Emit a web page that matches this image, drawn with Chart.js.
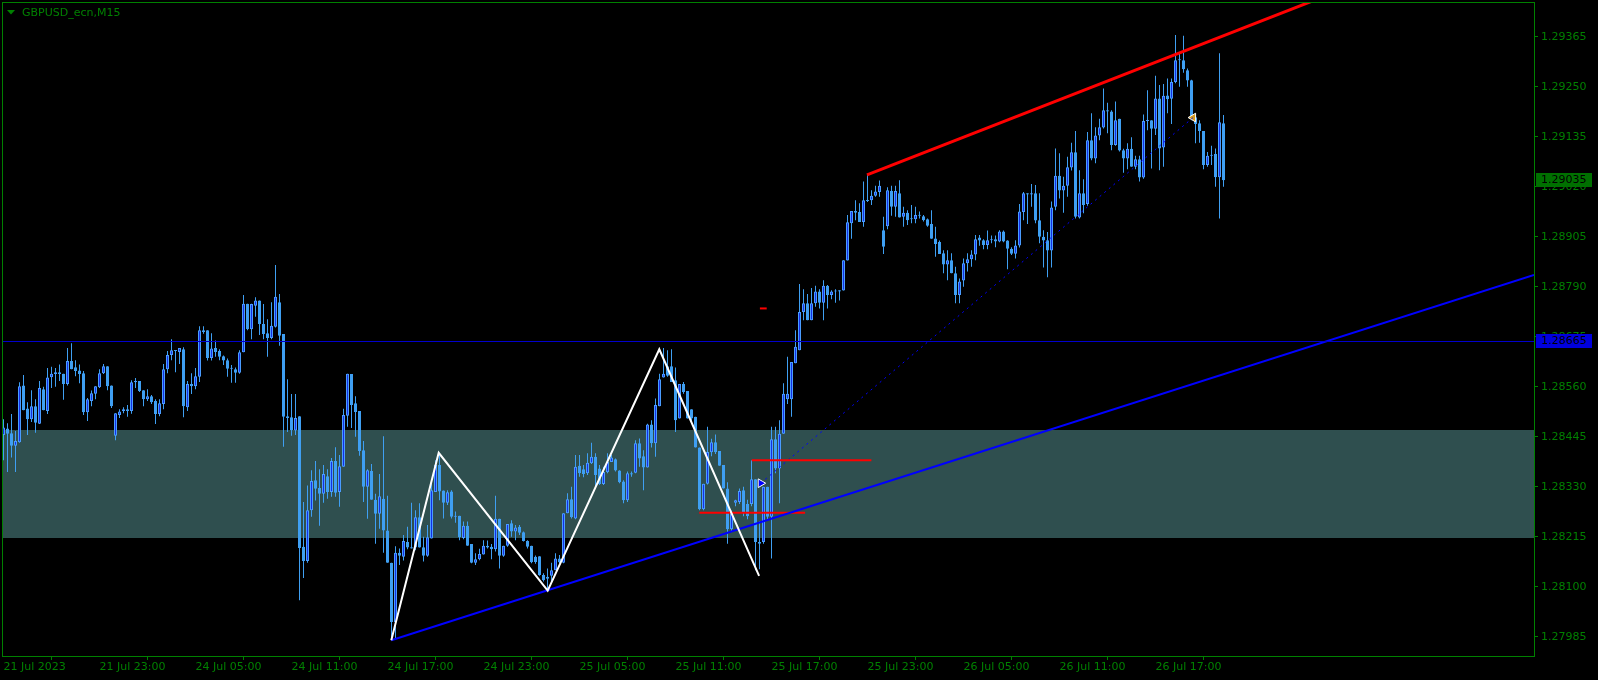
<!DOCTYPE html>
<html>
<head>
<meta charset="utf-8">
<title>GBPUSD_ecn,M15</title>
<script src="https://cdn.jsdelivr.net/npm/chart.js@4.4.0/dist/chart.umd.min.js"></script>
<style>
  html, body { margin: 0; padding: 0; background: #000; overflow: hidden; }
  canvas { display: block; }
</style>
</head>
<body>
<canvas id="chart" width="1598" height="680"></canvas>
<script>
// chart title / symbol
const symbolTitle = 'GBPUSD_ecn,M15';

// time axis: bar index -> label
const timeTickBars = [0, 24, 48, 72, 96, 120, 144, 168, 192, 216, 240, 264, 288];
const timeLabels = ['21 Jul 2023', '21 Jul 23:00', '24 Jul 05:00', '24 Jul 11:00', '24 Jul 17:00',
    '24 Jul 23:00', '25 Jul 05:00', '25 Jul 11:00', '25 Jul 17:00', '25 Jul 23:00',
    '26 Jul 05:00', '26 Jul 11:00', '26 Jul 17:00'];

// price axis ticks
const priceTicks = [1.27985, 1.28100, 1.28215, 1.28330, 1.28445, 1.28560, 1.28675,
    1.28790, 1.28905, 1.29020, 1.29135, 1.29250, 1.29365];

// M15 candles, one entry per bar
const opens = [
    1.28449,1.28464,1.28453,1.28424,1.28432,1.28563,1.28510,1.28485,1.28515,1.28475,
    1.28554,1.28504,1.28582,1.28589,1.28593,1.28590,1.28566,1.28619,1.28605,1.28597,
    1.28591,1.28501,1.28527,1.28544,1.28559,1.28591,1.28607,1.28563,1.28447,1.28495,
    1.28504,1.28508,1.28504,1.28570,1.28573,1.28552,1.28531,1.28538,1.28527,1.28497,
    1.28520,1.28600,1.28633,1.28644,1.28640,1.28646,1.28513,1.28566,1.28561,1.28583,
    1.28690,1.28690,1.28626,1.28649,1.28642,1.28630,1.28621,1.28601,1.28600,1.28592,
    1.28639,1.28751,1.28692,1.28746,1.28758,1.28704,1.28683,1.28672,1.28698,1.28754,
    1.28681,1.28492,1.28490,1.28459,1.28492,1.28192,1.28159,1.28276,1.28345,1.28327,
    1.28314,1.28354,1.28318,1.28389,1.28318,1.28376,1.28493,1.28589,1.28522,1.28504,
    1.28414,1.28330,1.28366,1.28300,1.28268,1.28302,1.28229,1.28155,1.28019,1.28178,
    1.28169,1.28203,1.28191,1.28190,1.28260,1.28191,1.28171,1.28211,1.28318,1.28380,
    1.28321,1.28293,1.28319,1.28261,1.28263,1.28212,1.28240,1.28198,1.28155,1.28163,
    1.28174,1.28194,1.28192,1.28186,1.28256,1.28171,1.28194,1.28246,1.28227,1.28238,
    1.28225,1.28205,1.28194,1.28169,1.28170,1.28127,1.28123,1.28125,1.28138,1.28165,
    1.28155,1.28269,1.28301,1.28257,1.28378,1.28370,1.28361,1.28384,1.28399,1.28372,
    1.28336,1.28363,1.28387,1.28393,1.28367,1.28342,1.28299,1.28361,1.28362,1.28430,
    1.28400,1.28374,1.28473,1.28430,1.28515,1.28581,1.28607,1.28607,1.28575,1.28487,
    1.28566,1.28550,1.28508,1.28491,1.28420,1.28278,1.28337,1.28409,1.28432,1.28412,
    1.28380,1.28326,1.28232,1.28293,1.28295,1.28322,1.28290,1.28290,1.28347,1.28203,
    1.28203,1.28330,1.28261,1.28439,1.28372,1.28452,1.28531,1.28531,1.28614,1.28644,
    1.28732,1.28752,1.28713,1.28752,1.28779,1.28753,1.28792,1.28771,1.28779,1.28782,
    1.28781,1.28850,1.28936,1.28964,1.28962,1.28939,1.28989,1.28989,1.28999,1.29008,
    1.28920,1.28929,1.29010,1.28974,1.29005,1.28951,1.28960,1.28947,1.28945,1.28955,
    1.28952,1.28945,1.28934,1.28901,1.28893,1.28867,1.28841,1.28851,1.28821,1.28771,
    1.28804,1.28844,1.28853,1.28864,1.28903,1.28897,1.28886,1.28897,1.28899,1.28894,
    1.28917,1.28896,1.28877,1.28866,1.28885,1.28962,1.29005,1.29002,1.29005,1.28943,
    1.28905,1.28897,1.28873,1.28974,1.29045,1.29011,1.29022,1.29064,1.29099,1.28949,
    1.29005,1.28980,1.29127,1.29085,1.29138,1.29156,1.29196,1.29193,1.29116,1.29176,
    1.29104,1.29085,1.29107,1.29066,1.29083,1.29041,1.29171,1.29173,1.29153,1.29223,
    1.29110,1.29230,1.29222,1.29261,1.29311,1.29311,1.29288,1.29265,1.29180,1.29166,
    1.29148,1.29070,1.29091,1.29095,1.29042,1.29166
];
const highs = [
    1.28485,1.28476,1.28497,1.28458,1.28570,1.28587,1.28524,1.28552,1.28531,1.28573,
    1.28560,1.28603,1.28606,1.28603,1.28611,1.28590,1.28649,1.28660,1.28621,1.28611,
    1.28596,1.28534,1.28551,1.28561,1.28600,1.28612,1.28607,1.28563,1.28499,1.28508,
    1.28513,1.28518,1.28575,1.28580,1.28573,1.28552,1.28554,1.28541,1.28531,1.28531,
    1.28612,1.28642,1.28669,1.28644,1.28649,1.28651,1.28573,1.28591,1.28603,1.28699,
    1.28699,1.28690,1.28683,1.28666,1.28646,1.28632,1.28625,1.28610,1.28604,1.28644,
    1.28771,1.28751,1.28751,1.28766,1.28758,1.28750,1.28715,1.28754,1.28840,1.28773,
    1.28681,1.28577,1.28543,1.28543,1.28492,1.28295,1.28333,1.28368,1.28389,1.28370,
    1.28380,1.28370,1.28396,1.28421,1.28403,1.28509,1.28590,1.28589,1.28538,1.28504,
    1.28435,1.28370,1.28382,1.28314,1.28359,1.28446,1.28309,1.28155,1.28193,1.28188,
    1.28219,1.28238,1.28293,1.28276,1.28292,1.28215,1.28242,1.28345,1.28391,1.28407,
    1.28321,1.28322,1.28322,1.28273,1.28263,1.28250,1.28250,1.28198,1.28177,1.28187,
    1.28207,1.28206,1.28198,1.28309,1.28256,1.28194,1.28244,1.28253,1.28242,1.28242,
    1.28227,1.28207,1.28194,1.28172,1.28170,1.28131,1.28142,1.28155,1.28177,1.28173,
    1.28269,1.28315,1.28330,1.28403,1.28403,1.28380,1.28407,1.28431,1.28407,1.28380,
    1.28376,1.28407,1.28403,1.28395,1.28368,1.28345,1.28365,1.28365,1.28437,1.28441,
    1.28414,1.28475,1.28483,1.28533,1.28590,1.28649,1.28644,1.28646,1.28604,1.28566,
    1.28571,1.28550,1.28508,1.28491,1.28420,1.28337,1.28468,1.28440,1.28450,1.28412,
    1.28380,1.28340,1.28275,1.28300,1.28326,1.28330,1.28300,1.28391,1.28347,1.28250,
    1.28330,1.28330,1.28468,1.28468,1.28483,1.28568,1.28629,1.28617,1.28690,1.28796,
    1.28784,1.28773,1.28787,1.28792,1.28784,1.28805,1.28794,1.28782,1.28784,1.28782,
    1.28851,1.28955,1.28964,1.28989,1.28982,1.29032,1.29047,1.29012,1.29022,1.29034,
    1.28951,1.29019,1.29022,1.29022,1.29035,1.28974,1.28966,1.28978,1.28974,1.28963,
    1.28955,1.28947,1.28966,1.28928,1.28896,1.28874,1.28874,1.28867,1.28836,1.28809,
    1.28855,1.28867,1.28874,1.28909,1.28909,1.28899,1.28919,1.28908,1.28908,1.28920,
    1.28919,1.28897,1.28881,1.28897,1.28980,1.29008,1.29005,1.29026,1.29024,1.29005,
    1.28920,1.28916,1.28986,1.29108,1.29097,1.29043,1.29089,1.29121,1.29148,1.29058,
    1.29037,1.29146,1.29189,1.29157,1.29176,1.29246,1.29213,1.29196,1.29216,1.29176,
    1.29107,1.29120,1.29134,1.29091,1.29091,1.29186,1.29242,1.29173,1.29275,1.29254,
    1.29256,1.29269,1.29269,1.29369,1.29328,1.29367,1.29292,1.29266,1.29180,1.29173,
    1.29148,1.29100,1.29114,1.29108,1.29327,1.29185
];
const lows = [
    1.28391,1.28364,1.28397,1.28364,1.28431,1.28506,1.28449,1.28479,1.28454,1.28474,
    1.28506,1.28497,1.28557,1.28560,1.28573,1.28530,1.28563,1.28600,1.28584,1.28568,
    1.28495,1.28481,1.28515,1.28531,1.28557,1.28589,1.28552,1.28511,1.28437,1.28488,
    1.28499,1.28491,1.28498,1.28557,1.28548,1.28515,1.28527,1.28520,1.28474,1.28492,
    1.28508,1.28591,1.28621,1.28593,1.28612,1.28490,1.28504,1.28543,1.28554,1.28571,
    1.28682,1.28620,1.28620,1.28629,1.28621,1.28610,1.28583,1.28569,1.28569,1.28590,
    1.28639,1.28690,1.28669,1.28721,1.28679,1.28669,1.28629,1.28669,1.28696,1.28654,
    1.28422,1.28456,1.28447,1.28449,1.28069,1.28120,1.28155,1.28261,1.28298,1.28240,
    1.28293,1.28302,1.28307,1.28307,1.28284,1.28376,1.28468,1.28465,1.28445,1.28401,
    1.28295,1.28256,1.28300,1.28199,1.28233,1.28178,1.28155,1.27977,1.27981,1.28150,
    1.28160,1.28186,1.28188,1.28184,1.28190,1.28158,1.28169,1.28211,1.28318,1.28299,
    1.28257,1.28288,1.28257,1.28247,1.28207,1.28209,1.28194,1.28154,1.28150,1.28161,
    1.28174,1.28188,1.28163,1.28181,1.28142,1.28169,1.28192,1.28215,1.28207,1.28219,
    1.28204,1.28188,1.28154,1.28153,1.28125,1.28112,1.28091,1.28112,1.28138,1.28154,
    1.28154,1.28269,1.28257,1.28255,1.28353,1.28352,1.28357,1.28382,1.28330,1.28334,
    1.28334,1.28361,1.28387,1.28365,1.28338,1.28292,1.28295,1.28353,1.28361,1.28376,
    1.28322,1.28374,1.28420,1.28399,1.28515,1.28581,1.28583,1.28571,1.28456,1.28487,
    1.28544,1.28487,1.28475,1.28420,1.28276,1.28276,1.28335,1.28400,1.28405,1.28378,
    1.28326,1.28199,1.28228,1.28285,1.28290,1.28262,1.28255,1.28285,1.28138,1.28140,
    1.28199,1.28253,1.28165,1.28361,1.28292,1.28452,1.28520,1.28491,1.28614,1.28644,
    1.28713,1.28713,1.28713,1.28744,1.28740,1.28713,1.28740,1.28761,1.28753,1.28758,
    1.28781,1.28850,1.28900,1.28943,1.28939,1.28928,1.28985,1.28978,1.28997,1.28997,
    1.28865,1.28922,1.28953,1.28951,1.28949,1.28928,1.28932,1.28936,1.28936,1.28947,
    1.28940,1.28928,1.28900,1.28859,1.28865,1.28821,1.28805,1.28821,1.28752,1.28752,
    1.28790,1.28825,1.28836,1.28851,1.28884,1.28876,1.28876,1.28890,1.28881,1.28892,
    1.28892,1.28830,1.28863,1.28855,1.28880,1.28943,1.28934,1.28974,1.28936,1.28890,
    1.28834,1.28812,1.28834,1.28966,1.28993,1.28960,1.28997,1.29057,1.28947,1.28947,
    1.28959,1.28976,1.29081,1.29074,1.29127,1.29154,1.29143,1.29104,1.29114,1.29101,
    1.29052,1.29060,1.29066,1.29060,1.29032,1.29038,1.29150,1.29062,1.29139,1.29058,
    1.29066,1.29189,1.29164,1.29258,1.29250,1.29282,1.29250,1.29173,1.29120,1.29121,
    1.29060,1.29066,1.29070,1.29020,1.28947,1.29020
];
const closes = [
    1.28466,1.28452,1.28424,1.28435,1.28561,1.28506,1.28485,1.28515,1.28477,1.28557,
    1.28506,1.28581,1.28590,1.28593,1.28589,1.28566,1.28619,1.28600,1.28596,1.28589,
    1.28501,1.28531,1.28545,1.28561,1.28591,1.28607,1.28561,1.28515,1.28499,1.28503,
    1.28508,1.28504,1.28570,1.28573,1.28550,1.28531,1.28538,1.28524,1.28497,1.28522,
    1.28600,1.28633,1.28644,1.28642,1.28649,1.28515,1.28566,1.28561,1.28584,1.28690,
    1.28686,1.28626,1.28648,1.28640,1.28629,1.28620,1.28601,1.28603,1.28592,1.28639,
    1.28751,1.28692,1.28750,1.28758,1.28704,1.28681,1.28672,1.28700,1.28767,1.28677,
    1.28491,1.28488,1.28460,1.28488,1.28189,1.28159,1.28276,1.28343,1.28325,1.28314,
    1.28359,1.28318,1.28389,1.28316,1.28377,1.28495,1.28590,1.28518,1.28502,1.28412,
    1.28330,1.28368,1.28300,1.28268,1.28308,1.28229,1.28155,1.28019,1.28178,1.28171,
    1.28205,1.28190,1.28188,1.28260,1.28190,1.28171,1.28214,1.28322,1.28380,1.28319,
    1.28293,1.28317,1.28261,1.28263,1.28214,1.28240,1.28194,1.28155,1.28163,1.28175,
    1.28194,1.28190,1.28186,1.28256,1.28171,1.28194,1.28244,1.28227,1.28236,1.28224,
    1.28205,1.28192,1.28156,1.28157,1.28127,1.28115,1.28118,1.28138,1.28165,1.28156,
    1.28269,1.28301,1.28260,1.28376,1.28361,1.28359,1.28385,1.28399,1.28357,1.28336,
    1.28364,1.28387,1.28397,1.28367,1.28340,1.28299,1.28361,1.28358,1.28430,1.28395,
    1.28374,1.28473,1.28430,1.28518,1.28577,1.28590,1.28585,1.28571,1.28483,1.28566,
    1.28548,1.28487,1.28487,1.28420,1.28278,1.28337,1.28410,1.28432,1.28409,1.28378,
    1.28326,1.28232,1.28270,1.28299,1.28320,1.28270,1.28262,1.28347,1.28203,1.28199,
    1.28330,1.28261,1.28439,1.28372,1.28452,1.28544,1.28544,1.28617,1.28652,1.28732,
    1.28752,1.28713,1.28752,1.28779,1.28753,1.28792,1.28771,1.28779,1.28780,1.28779,
    1.28851,1.28938,1.28964,1.28960,1.28939,1.28989,1.28987,1.28999,1.29009,1.29022,
    1.28882,1.29012,1.28974,1.29010,1.28949,1.28960,1.28943,1.28945,1.28955,1.28953,
    1.28943,1.28930,1.28900,1.28888,1.28865,1.28841,1.28851,1.28821,1.28771,1.28802,
    1.28844,1.28853,1.28864,1.28899,1.28896,1.28886,1.28897,1.28899,1.28894,1.28917,
    1.28894,1.28877,1.28866,1.28885,1.28963,1.29005,1.29002,1.29005,1.28942,1.28905,
    1.28896,1.28873,1.28972,1.29045,1.29011,1.29022,1.29065,1.29099,1.28951,1.29005,
    1.28978,1.29127,1.29085,1.29138,1.29157,1.29196,1.29193,1.29116,1.29173,1.29103,
    1.29085,1.29107,1.29066,1.29083,1.29041,1.29171,1.29173,1.29153,1.29223,1.29108,
    1.29229,1.29221,1.29261,1.29311,1.29313,1.29290,1.29264,1.29180,1.29164,1.29148,
    1.29070,1.29091,1.29093,1.29042,1.29168,1.29035
];

// levels and drawn objects (x = bar index, y = price)
const zoneTop = 1.28460;
const zoneBottom = 1.28213;
const blueLevel = 1.28665;
const lastPrice = 1.29035;
const supportLine = [{ x: 96.95, y: 1.27977 }, { x: 382.625, y: 1.28817 }];
const resistanceLine = [{ x: 215.875, y: 1.29047 }, { x: 382.625, y: 1.29646 }];
const zigzag = [
    { x: 96.95, y: 1.27977 }, { x: 108.8, y: 1.28408 }, { x: 136.05, y: 1.28091 },
    { x: 163.95, y: 1.28646 }, { x: 188.9, y: 1.28125 }
];
const redLevelHigh = [{ x: 187.05, y: 1.28391 }, { x: 216.97, y: 1.28391 }];
const redLevelLow = [{ x: 173.95, y: 1.28270 }, { x: 200.4, y: 1.28270 }];
const redDash = [{ x: 189.1, y: 1.28740 }, { x: 190.8, y: 1.28740 }];
const dottedPath = [{ x: 189.3, y: 1.28338 }, { x: 297.4, y: 1.29179 }];
const entryMark = [{ x: 189.3, y: 1.28338 }];
const exitMark = [{ x: 297.4, y: 1.29179 }];

const GREEN = '#008000';
const WICK = '#3f9ff2';
const BEAR_FILL = '#3f9ff2';
const BULL_FILL = '#1430e6';
const BULL_EDGE = '#4a9cff';
const FONT = { family: 'DejaVu Sans', size: 11 };

const bodies = opens.map((o, i) => ({ x: i, y: [o, closes[i]] }));
const wicks = lows.map((l, i) => ({ x: i, y: [l, highs[i]] }));
const isBull = i => closes[i] >= opens[i];

function lineSet(data, color, width, extra) {
    return Object.assign({
        type: 'line', data: data, borderColor: color, borderWidth: width,
        pointRadius: 0, tension: 0, fill: false, clip: 0, order: 0
    }, extra || {});
}

// no automatic label padding: the plot frame sits at fixed pixels
function noPadding(s) {
    s.paddingLeft = 0;
    s.paddingRight = 0;
    s.paddingTop = 0;
    s.paddingBottom = 0;
}

const mt4Decor = {
    id: 'mt4Decor',
    beforeDraw(chart) {
        const ctx = chart.ctx;
        ctx.save();
        ctx.fillStyle = '#000';
        ctx.fillRect(0, 0, chart.width, chart.height);
        ctx.restore();
    },
    beforeDatasetsDraw(chart) {
        const { ctx, chartArea: a, scales: { y } } = chart;
        ctx.save();
        const top = Math.round(y.getPixelForValue(zoneTop));
        const bottom = Math.round(y.getPixelForValue(zoneBottom));
        ctx.fillStyle = '#2f4f4f';
        ctx.fillRect(a.left, top, a.right - a.left, bottom - top);
        ctx.restore();
    },
    afterDatasetsDraw(chart) {
        const { ctx, chartArea: a, scales: { y } } = chart;
        ctx.save();
        const py = Math.round(y.getPixelForValue(blueLevel)) + 0.5;
        ctx.strokeStyle = '#0000cd';
        ctx.lineWidth = 1;
        ctx.beginPath();
        ctx.moveTo(a.left, py);
        ctx.lineTo(a.right, py);
        ctx.stroke();
        ctx.restore();
    },
    afterDraw(chart) {
        const { ctx, chartArea: a, scales: { y } } = chart;
        ctx.save();
        // frame
        ctx.strokeStyle = GREEN;
        ctx.lineWidth = 1;
        ctx.strokeRect(a.left + 0.5, a.top + 0.5, a.right - a.left, a.bottom - a.top);
        // title
        ctx.fillStyle = GREEN;
        ctx.beginPath();
        ctx.moveTo(7, 10);
        ctx.lineTo(15, 10);
        ctx.lineTo(11, 14.5);
        ctx.closePath();
        ctx.fill();
        ctx.font = '11px "DejaVu Sans"';
        ctx.textBaseline = 'middle';
        ctx.textAlign = 'left';
        ctx.fillText(symbolTitle, 22, 13);
        // price boxes on the axis
        const boxes = [[lastPrice, '#007000'], [blueLevel, '#0000dd']];
        boxes.forEach(([value, color]) => {
            const py = Math.round(y.getPixelForValue(value));
            ctx.fillStyle = color;
            ctx.fillRect(a.right + 2, py - 7, 56, 14);
            ctx.fillStyle = '#000';
            ctx.fillText(value.toFixed(5), a.right + 7, py + 0.5);
        });
        ctx.restore();
    }
};

new Chart(document.getElementById('chart'), {
    type: 'bar',
    data: {
        datasets: [
            lineSet(zigzag, '#ffffff', 2),
            lineSet(supportLine, '#0000ff', 2),
            lineSet(resistanceLine, '#ff0000', 3),
            lineSet(redLevelHigh, '#ff0000', 2),
            lineSet(redLevelLow, '#ff0000', 2),
            lineSet(redDash, '#ff0000', 2),
            lineSet(dottedPath, '#0000ff', 1, { borderDash: [2, 4] }),
            {
                type: 'scatter', data: entryMark, order: 0, clip: 0,
                pointStyle: 'triangle', rotation: 90, pointRadius: 5,
                backgroundColor: '#0000ff', borderColor: '#ffffff', borderWidth: 1
            },
            {
                type: 'scatter', data: exitMark, order: 0, clip: 0,
                pointStyle: 'triangle', rotation: -90, pointRadius: 5,
                backgroundColor: '#d49a1c', borderColor: '#ffffff', borderWidth: 1
            },
            {
                type: 'bar', data: bodies, order: 1, grouped: false,
                barThickness: 3, minBarLength: 1, inflateAmount: 0,
                borderWidth: 1, borderSkipped: false,
                backgroundColor: c => isBull(c.dataIndex) ? BULL_FILL : BEAR_FILL,
                borderColor: c => isBull(c.dataIndex) ? BULL_EDGE : BEAR_FILL
            },
            {
                type: 'bar', data: wicks, order: 2, grouped: false,
                barThickness: 1, minBarLength: 1, inflateAmount: 0,
                borderWidth: 0, backgroundColor: WICK
            }
        ]
    },
    options: {
        responsive: false,
        animation: false,
        devicePixelRatio: 1,
        layout: { autoPadding: false, padding: { left: 2, top: 2, right: 0, bottom: 0 } },
        plugins: { legend: { display: false }, tooltip: { enabled: false } },
        scales: {
            x: {
                type: 'linear',
                min: -0.375,
                max: 382.625,
                offset: false,
                border: { display: false },
                grid: { drawOnChartArea: false, drawTicks: true, tickLength: 4, color: GREEN },
                ticks: {
                    color: GREEN, font: FONT, align: 'start', padding: 1,
                    autoSkip: false, maxRotation: 0,
                    callback: (v, i) => timeLabels[i]
                },
                afterBuildTicks: s => { s.ticks = timeTickBars.map(v => ({ value: v })); },
                afterFit: s => { s.height = 24; noPadding(s); }
            },
            y: {
                position: 'right',
                min: 1.279406,
                max: 1.294448,
                border: { display: false },
                grid: { drawOnChartArea: false, drawTicks: true, tickLength: 4, color: GREEN },
                ticks: {
                    color: GREEN, font: FONT, padding: 3,
                    callback: v => v.toFixed(5)
                },
                afterBuildTicks: s => { s.ticks = priceTicks.map(v => ({ value: v })); },
                afterFit: s => { s.width = 64; noPadding(s); }
            }
        }
    },
    plugins: [mt4Decor]
});
</script>
</body>
</html>
